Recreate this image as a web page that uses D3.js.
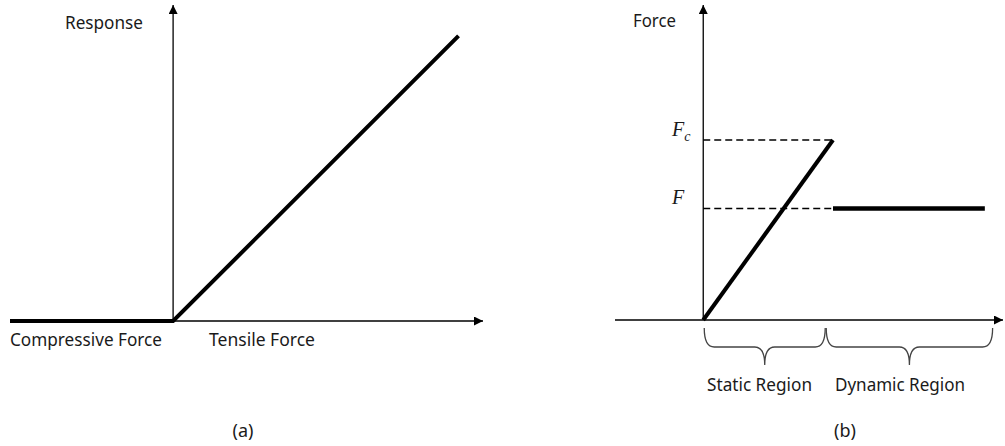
<!DOCTYPE html>
<html>
<head>
<meta charset="utf-8">
<script src="https://cdn.jsdelivr.net/npm/d3@7"></script>
<style>
  body { margin: 0; background: #fff; }
  text { font-family: "Noto Sans", sans-serif; fill: #1a1a1a; }
</style>
</head>
<body>
<div id="app"></div>
<script>
// (a) response vs force
const aForce = [-1, 0, 1.75];
const aResponse = [0, 0, 1.75];

// (b) force vs displacement
const bStaticX = [0, 1];
const bStaticY = [0, 1];
const bDynamicX = [1, 2.17];
const bDynamicY = [0.62, 0.62];
const levelNames = ["F", "F"];
const levelSubs = ["c", ""];
const levelValues = [1, 0.62];
const regionNames = ["Static Region", "Dynamic Region"];
const regionStart = [0, 0.94];
const regionEnd = [0.94, 2.23];

const width = 1005;
const height = 446;

const svg = d3.select('#app')
  .append('svg')
  .attr('width', width)
  .attr('height', height)

svg.append('rect').attr('width', width).attr('height', height).attr('fill', '#fff')

svg.append('defs').append('marker')
  .attr('id', 'arrow')
  .attr('viewBox', '0 0 10 10')
  .attr('refX', 10).attr('refY', 5)
  .attr('markerWidth', 10).attr('markerHeight', 9)
  .attr('markerUnits', 'userSpaceOnUse')
  .attr('orient', 'auto')
  .append('path')
  .attr('d', 'M0,0 L10,5 L0,10 Z')
  .attr('fill', '#000')

const line = (x, y) => d3.line().x(d => x(d[0])).y(d => y(d[1]))

function label(txt, x, y, len, anchor) {
  const t = svg.append('text')
    .attr('x', x).attr('y', y)
    .attr('font-size', 18)
    .attr('text-anchor', anchor || 'start')
    .text(txt)
  if (len) t.attr('textLength', len).attr('lengthAdjust', 'spacingAndGlyphs')
  return t
}

/* panel a */
const xA = d3.scaleLinear().domain([-1, 1.9]).range([10, 483])
const yA = d3.scaleLinear().domain([0, 1.94]).range([321, 5])

svg.append('line')
  .attr('x1', xA(0)).attr('y1', yA(0))
  .attr('x2', xA(0)).attr('y2', yA(1.94))
  .attr('stroke', '#000').attr('stroke-width', 1.3)
  .attr('marker-end', 'url(#arrow)')
svg.append('line')
  .attr('x1', xA(0)).attr('y1', yA(0))
  .attr('x2', xA(1.9)).attr('y2', yA(0))
  .attr('stroke', '#000').attr('stroke-width', 1.3)
  .attr('marker-end', 'url(#arrow)')

svg.append('path')
  .datum(d3.zip(aForce, aResponse))
  .attr('d', line(xA, yA))
  .attr('fill', 'none')
  .attr('stroke', '#000')
  .attr('stroke-width', 4)

label('Response', 65, 29, 78)
label('Compressive Force', 10, 346, 152)
label('Tensile Force', 209, 346, 106)
label('(a)', 243, 437, null, 'middle')

/* panel b */
const xB = d3.scaleLinear().domain([-0.68, 2.31]).range([615, 1003])
const yB = d3.scaleLinear().domain([0, 1.75]).range([320, 5])

svg.append('line')
  .attr('x1', xB(0)).attr('y1', yB(0))
  .attr('x2', xB(0)).attr('y2', yB(1.75))
  .attr('stroke', '#000').attr('stroke-width', 1.3)
  .attr('marker-end', 'url(#arrow)')
svg.append('line')
  .attr('x1', xB(-0.68)).attr('y1', yB(0))
  .attr('x2', xB(2.31)).attr('y2', yB(0))
  .attr('stroke', '#000').attr('stroke-width', 1.3)
  .attr('marker-end', 'url(#arrow)')

// dashed guide lines
svg.append('g').selectAll('line')
  .data(levelValues)
  .enter()
  .append('line')
  .attr('x1', xB(0)).attr('x2', xB(1))
  .attr('y1', d => yB(d)).attr('y2', d => yB(d))
  .attr('stroke', '#000').attr('stroke-width', 1.5)
  .attr('stroke-dasharray', '7,4')

svg.append('path')
  .datum(d3.zip(bStaticX, bStaticY))
  .attr('d', line(xB, yB))
  .attr('fill', 'none').attr('stroke', '#000').attr('stroke-width', 4)
svg.append('path')
  .datum(d3.zip(bDynamicX, bDynamicY))
  .attr('d', line(xB, yB))
  .attr('fill', 'none').attr('stroke', '#000').attr('stroke-width', 4.5)

// level labels
levelValues.forEach((v, i) => {
  const t = svg.append('text')
    .attr('x', 672).attr('y', yB(v) - 4)
    .attr('font-style', 'italic')
    .attr('font-size', 20)
    .style('font-family', '"Liberation Serif", serif')
    .text(levelNames[i])
  if (levelSubs[i]) {
    t.append('tspan').attr('dy', 5).attr('font-size', 14).text(levelSubs[i])
  }
})

// braces under the axis
const by0 = 328, by1 = 347, by2 = 365, r = 10
svg.append('g').selectAll('path')
  .data(d3.zip(regionStart, regionEnd))
  .enter()
  .append('path')
  .attr('d', d => {
    const x0 = xB(d[0]) + 1, x1 = xB(d[1]), m = (x0 + x1) / 2
    return `M${x0},${by0} Q${x0},${by1} ${x0 + r},${by1} L${m - r},${by1} Q${m},${by1} ${m},${by2}` +
      ` Q${m},${by1} ${m + r},${by1} L${x1 - r},${by1} Q${x1},${by1} ${x1},${by0}`
  })
  .attr('fill', 'none')
  .attr('stroke', '#444')
  .attr('stroke-width', 1.3)

label('Force', 633, 27, 43)
label(regionNames[0], 707, 391, 105)
label(regionNames[1], 835, 391, 130)
label('(b)', 845, 437, null, 'middle')
</script>
</body>
</html>
